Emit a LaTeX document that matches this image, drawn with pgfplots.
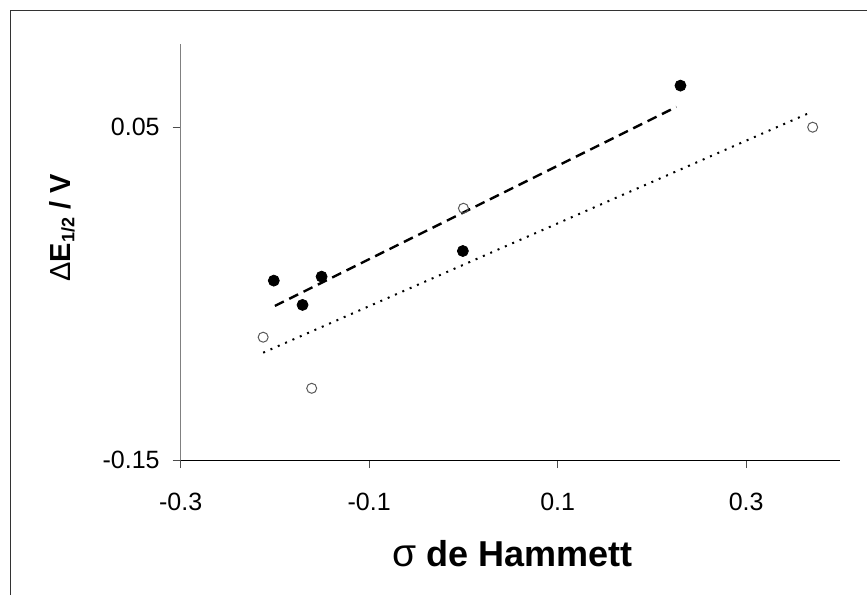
\documentclass[border=0pt]{standalone}
\usepackage{pgfplots}
\pgfplotsset{compat=1.18}
\usepackage{fontspec}
\setmainfont{Liberation Sans}
\begin{document}
\begin{tikzpicture}
\useasboundingbox (0,0) rectangle (433.5pt,-297.5pt);
\draw[line width=0.5pt, black!80] (5pt,-297.5pt) -- (5pt,-5pt) -- (433.5pt,-5pt);
\begin{axis}[
  at={(90.35pt,-230pt)}, anchor=south west,
  scale only axis, width=329.85pt, height=208pt,
  xmin=-0.3, xmax=0.4, ymin=-0.15, ymax=0.1,
  axis lines*=left,
  x axis line style={-, black, line width=0.5pt},
  y axis line style={-, gray, line width=0.7pt},
  tick align=outside, tick pos=left,
  major tick length=4pt,
  every tick/.style={gray!60!black, line width=0.5pt},
  xtick={-0.3,-0.1,0.1,0.3}, xticklabels={-0.3,-0.1,0.1,0.3},
  ytick={-0.15,0.05}, yticklabels={-0.15,0.05},
  ticklabel style={font=\fontsize{12.5}{15}\selectfont},
  xticklabel style={yshift=-9pt},
  yticklabel style={xshift=-3pt},
  clip=false,
]
\addplot[black, line width=1.2pt, dash pattern=on 5pt off 3pt] coordinates {(-0.2001,-0.0574) (0.226,0.0622)};
\addplot[black, line width=1pt, dash pattern=on 1pt off 3pt] coordinates {(-0.2125,-0.0855) (0.3663,0.0584)};
\addplot[only marks, mark=*, mark size=2.75pt, black] coordinates {
(-0.2012,-0.0422) (-0.1707,-0.0568) (-0.1505,-0.0398) (-0.0006,-0.0244) (0.2303,0.0750)};
\addplot[only marks, mark=o, mark size=2.5pt, gray!70!black, mark options={line width=0.5pt, fill=white}] coordinates {
(-0.2125,-0.0762) (-0.161,-0.1069) (0.0,0.0013) (0.3706,0.0500)};
\end{axis}
\node[anchor=base east, inner sep=0pt, font=\fontsize{18}{21}\selectfont\bfseries] at (316.35pt,-283pt) {{\mdseries\fontsize{19.5}{21}\selectfont σ} de Hammett};
\node[anchor=base west, rotate=90, inner sep=0pt, font=\fontsize{14.5}{17}\selectfont\bfseries] at (35pt,-141pt) {{\mdseries Δ}E\raisebox{-0.15em}{\fontsize{9}{9}\selectfont 1/2} / V};
\end{tikzpicture}
\end{document}
